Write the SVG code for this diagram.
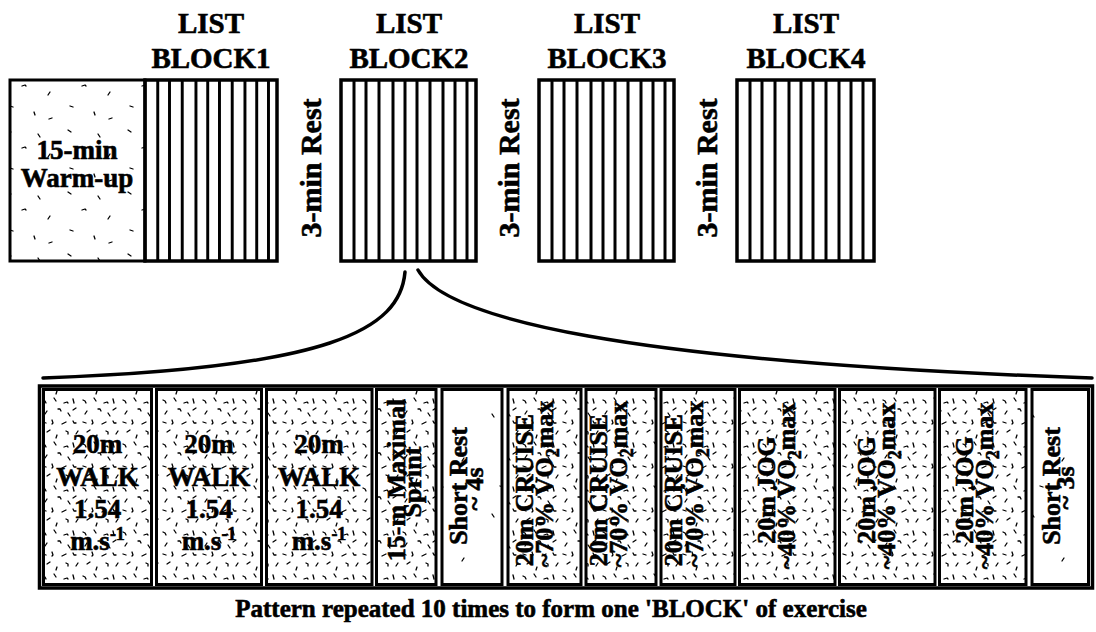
<svg xmlns="http://www.w3.org/2000/svg" width="1096" height="632" viewBox="0 0 1096 632">
  <style>
    .t { font-family: "Liberation Serif", "Times New Roman", "DejaVu Serif", serif; font-weight: bold; fill: #000; stroke: #000; stroke-width: 0.6px; text-anchor: middle; }
    .head { font-size: 29px; }
    .rest { font-size: 30px; }
    .warm { font-size: 27px; }
    .walk { font-size: 27px; }
    .rot { font-size: 26px; }
    .cap { font-size: 25px; }
    .frame { fill: none; stroke: #000; stroke-width: 3.5; }
    .box { stroke: #000; stroke-width: 3; }
    .stripe { fill: none; stroke: #000; stroke-width: 3; }
    .curve { fill: none; stroke: #000; stroke-width: 3.5; stroke-linecap: round; }
    .speck { fill: none; stroke: #000; stroke-width: 1.3; stroke-linecap: round; stroke-linejoin: round; }
  </style>
  <defs>
    <!-- stippled fill: short irregular ticks -->
    <pattern id="speckDense" width="40" height="44" patternUnits="userSpaceOnUse">
      <rect width="40" height="44" fill="#fff"/>
      <path class="speck" d="M3 4l2 1 1 2M14 2l2 3M24 7l3-1 1 1M33 3l1 4M7 15l-2 3M18 13l2 0 1 2M28 17l2 3M36 12l-3 2M3 26l3 1M12 24l1 3-1 1M22 28l4-2M33 25l1 2 2 0M7 36l3-2M17 39l-1 3M26 35l2 1 0 2M36 38l2-3"/>
    </pattern>
    <pattern id="speckSparse" width="60" height="62" patternUnits="userSpaceOnUse">
      <rect width="60" height="62" fill="#fff"/>
      <path class="speck" d="M8 6l3 2M38 10l2 3M22 24l3-1 1 1M50 30l-2 3M10 44l3 1M34 50l1 3M52 56l-3 1"/>
    </pattern>
    <pattern id="speckFew" width="60" height="100" patternUnits="userSpaceOnUse">
      <rect width="60" height="100" fill="#fff"/>
      <path class="speck" d="M12 14l2 3M44 58l-2 3M20 86l3 1"/>
    </pattern>
    <!-- vertical bars of a list block -->
    <path id="bars" class="stripe" d="M13 0V181M25 0V181M38 0V181M52 0V181M64 0V181M76 0V181M89 0V181M102 0V181M114 0V181M126 0V181"/>
  </defs>

  <rect width="1096" height="632" fill="#fff"/>

  <!-- upper row: warm-up, four list blocks and the rests between them -->
  <g id="warmup">
    <rect class="box" x="10" y="80" width="135" height="181" fill="url(#speckSparse)"/>
    <text class="t warm" x="77" y="159">15-min</text>
    <text class="t warm" x="77" y="187">Warm-up</text>
  </g>

  <g id="block1">
    <text class="t head" x="211" y="33">LIST</text>
    <text class="t head" x="211" y="68">BLOCK1</text>
    <rect class="frame" x="145" y="80" width="132" height="181" fill="#fff"/>
    <use href="#bars" transform="translate(145,80) scale(0.98,1)"/>
  </g>

  <g id="rest1">
    <text class="t rest" transform="translate(321,168) rotate(-90)">3-min Rest</text>
  </g>

  <g id="block2">
    <text class="t head" x="409" y="33">LIST</text>
    <text class="t head" x="409" y="68">BLOCK2</text>
    <rect class="frame" x="341" y="80" width="135" height="181" fill="#fff"/>
    <use href="#bars" transform="translate(341,80)"/>
  </g>

  <g id="rest2">
    <text class="t rest" transform="translate(519,168) rotate(-90)">3-min Rest</text>
  </g>

  <g id="block3">
    <text class="t head" x="607" y="33">LIST</text>
    <text class="t head" x="607" y="68">BLOCK3</text>
    <rect class="frame" x="539" y="80" width="135" height="181" fill="#fff"/>
    <use href="#bars" transform="translate(539,80)"/>
  </g>

  <g id="rest3">
    <text class="t rest" transform="translate(717,168) rotate(-90)">3-min Rest</text>
  </g>

  <g id="block4">
    <text class="t head" x="806" y="33">LIST</text>
    <text class="t head" x="806" y="68">BLOCK4</text>
    <rect class="frame" x="737" y="80" width="137" height="181" fill="#fff"/>
    <use href="#bars" transform="translate(737,80)"/>
  </g>

  <!-- expansion lines from block 2 to the pattern row -->
  <g id="connectors">
    <path class="curve" d="M405 272C400 330 330 368 43 378"/>
    <path class="curve" d="M418 270C445 318 620 362 1092 378"/>
  </g>

  <!-- lower row: the repeated pattern -->
  <g id="pattern-frame">
    <rect class="frame" x="39.5" y="386" width="1053" height="202"/>
  </g>

  <g id="walk1">
    <rect class="box" x="43.5" y="389.5" width="108" height="195" fill="url(#speckDense)"/>
    <text class="t walk" x="97.5" y="453">20m</text>
    <text class="t walk" x="97.5" y="486">WALK</text>
    <text class="t walk" x="97.5" y="518">1.54</text>
    <text class="t walk" x="97.5" y="550">m.s<tspan dy="-10" font-size="18">-1</tspan></text>
  </g>

  <g id="walk2">
    <rect class="box" x="156.5" y="389.5" width="105" height="195" fill="url(#speckDense)"/>
    <text class="t walk" x="209" y="453">20m</text>
    <text class="t walk" x="209" y="486">WALK</text>
    <text class="t walk" x="209" y="518">1.54</text>
    <text class="t walk" x="209" y="550">m.s<tspan dy="-10" font-size="18">-1</tspan></text>
  </g>

  <g id="walk3">
    <rect class="box" x="266.5" y="389.5" width="105.5" height="195" fill="url(#speckDense)"/>
    <text class="t walk" x="319" y="453">20m</text>
    <text class="t walk" x="319" y="486">WALK</text>
    <text class="t walk" x="319" y="518">1.54</text>
    <text class="t walk" x="319" y="550">m.s<tspan dy="-10" font-size="18">-1</tspan></text>
  </g>

  <g id="sprint">
    <rect class="box" x="376.5" y="389.5" width="59.5" height="195" fill="url(#speckDense)"/>
    <text class="t rot" transform="translate(405,480) rotate(-90)">15-m Maximal</text>
    <text class="t rot" transform="translate(421,482) rotate(-90)">Sprint</text>
  </g>

  <g id="rest-4s">
    <rect class="box" x="442" y="389.5" width="60" height="195" fill="url(#speckFew)"/>
    <text class="t rot" transform="translate(467,486) rotate(-90)">Short Rest</text>
    <text class="t rot" transform="translate(483,489) rotate(-90)">~ 4s</text>
  </g>

  <g id="cruise1">
    <rect class="box" x="508" y="389.5" width="73" height="195" fill="url(#speckDense)"/>
    <text class="t rot" transform="translate(533,490) rotate(-90)">20m CRUISE</text>
    <text class="t rot" transform="translate(553,484) rotate(-90)">~70% V&#x307;O<tspan dy="6" font-size="18">2</tspan><tspan dy="-6">max</tspan></text>
  </g>

  <g id="cruise2">
    <rect class="box" x="586" y="389.5" width="70" height="195" fill="url(#speckDense)"/>
    <text class="t rot" transform="translate(607,490) rotate(-90)">20m CRUISE</text>
    <text class="t rot" transform="translate(627,484) rotate(-90)">~70% V&#x307;O<tspan dy="6" font-size="18">2</tspan><tspan dy="-6">max</tspan></text>
  </g>

  <g id="cruise3">
    <rect class="box" x="661" y="389.5" width="74" height="195" fill="url(#speckDense)"/>
    <text class="t rot" transform="translate(682,490) rotate(-90)">20m CRUISE</text>
    <text class="t rot" transform="translate(703,484) rotate(-90)">~70% V&#x307;O<tspan dy="6" font-size="18">2</tspan><tspan dy="-6">max</tspan></text>
  </g>

  <g id="jog1">
    <rect class="box" x="739.5" y="389.5" width="95.5" height="195" fill="url(#speckDense)"/>
    <text class="t rot" transform="translate(775,490) rotate(-90)">20m JOG</text>
    <text class="t rot" transform="translate(795,486) rotate(-90)">~40% V&#x307;O<tspan dy="6" font-size="18">2</tspan><tspan dy="-6">max</tspan></text>
  </g>

  <g id="jog2">
    <rect class="box" x="839.5" y="389.5" width="95.5" height="195" fill="url(#speckDense)"/>
    <text class="t rot" transform="translate(875,490) rotate(-90)">20m JOG</text>
    <text class="t rot" transform="translate(895,486) rotate(-90)">~40% V&#x307;O<tspan dy="6" font-size="18">2</tspan><tspan dy="-6">max</tspan></text>
  </g>

  <g id="jog3">
    <rect class="box" x="939.5" y="389.5" width="86.5" height="195" fill="url(#speckDense)"/>
    <text class="t rot" transform="translate(973,490) rotate(-90)">20m JOG</text>
    <text class="t rot" transform="translate(993,486) rotate(-90)">~40% V&#x307;O<tspan dy="6" font-size="18">2</tspan><tspan dy="-6">max</tspan></text>
  </g>

  <g id="rest-3s">
    <rect class="box" x="1032" y="389.5" width="56.5" height="195" fill="url(#speckFew)"/>
    <text class="t rot" transform="translate(1060,486) rotate(-90)">Short Rest</text>
    <text class="t rot" transform="translate(1074,488) rotate(-90)">~ 3s</text>
  </g>

  <g id="caption">
    <text class="t cap" x="551" y="617">Pattern repeated 10 times to form one 'BLOCK' of exercise</text>
  </g>
</svg>
